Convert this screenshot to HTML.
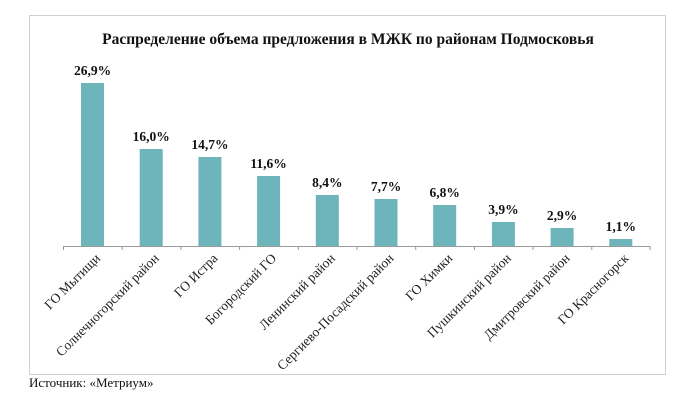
<!DOCTYPE html>
<html><head><meta charset="utf-8"><style>
html,body{margin:0;padding:0;background:#fff;}
</style></head><body>
<svg width="700" height="403" xmlns="http://www.w3.org/2000/svg" font-family="Liberation Serif, DejaVu Serif, serif">
<rect x="0" y="0" width="700" height="403" fill="#fff"/>
<rect x="29.5" y="15.5" width="636" height="359" fill="#fff" stroke="#cfcfcf" stroke-width="1"/>
<text x="348" y="44" text-anchor="middle" font-weight="bold" font-size="15.5" fill="#111">Распределение объема предложения в МЖК по районам Подмосковья</text>
<line x1="63" y1="246.5" x2="650" y2="246.5" stroke="#999" stroke-width="1"/>
<g stroke="#999" stroke-width="1">
<line x1="63.5" y1="246" x2="63.5" y2="250"/><line x1="122.2" y1="246" x2="122.2" y2="250"/><line x1="180.9" y1="246" x2="180.9" y2="250"/><line x1="239.6" y1="246" x2="239.6" y2="250"/><line x1="298.3" y1="246" x2="298.3" y2="250"/><line x1="357" y1="246" x2="357" y2="250"/><line x1="415.7" y1="246" x2="415.7" y2="250"/><line x1="474.4" y1="246" x2="474.4" y2="250"/><line x1="533.1" y1="246" x2="533.1" y2="250"/><line x1="591.8" y1="246" x2="591.8" y2="250"/><line x1="650" y1="246" x2="650" y2="250"/>
</g>
<g fill="#6db5bb">
<rect x="81" y="83" width="23" height="163"/>
<rect x="139.7" y="149" width="23" height="97"/>
<rect x="198.4" y="157" width="23" height="89"/>
<rect x="257.1" y="176" width="23" height="70"/>
<rect x="315.8" y="195" width="23" height="51"/>
<rect x="374.5" y="199" width="23" height="47"/>
<rect x="433.2" y="205" width="23" height="41"/>
<rect x="491.9" y="222" width="23" height="24"/>
<rect x="550.6" y="228" width="23" height="18"/>
<rect x="609.3" y="239" width="23" height="7"/>
</g>
<g font-weight="bold" font-size="13.5" text-anchor="middle" fill="#111">
<text x="92.5" y="75">26,9%</text>
<text x="151.2" y="141">16,0%</text>
<text x="209.9" y="149">14,7%</text>
<text x="268.6" y="168">11,6%</text>
<text x="327.3" y="187">8,4%</text>
<text x="386" y="191">7,7%</text>
<text x="444.7" y="197">6,8%</text>
<text x="503.4" y="214">3,9%</text>
<text x="562.1" y="220">2,9%</text>
<text x="620.8" y="231">1,1%</text>
</g>
<g font-size="13.5" text-anchor="end" fill="#222">
<text transform="translate(101,259) rotate(-45)">ГО Мытищи</text>
<text transform="translate(159.7,259) rotate(-45)">Солнечногорский район</text>
<text transform="translate(218.4,259) rotate(-45)">ГО Истра</text>
<text transform="translate(277.1,259) rotate(-45)">Богородский ГО</text>
<text transform="translate(335.8,259) rotate(-45)">Ленинский район</text>
<text transform="translate(394.5,259) rotate(-45)">Сергиево-Посадский район</text>
<text transform="translate(453.2,259) rotate(-45)">ГО Химки</text>
<text transform="translate(511.9,259) rotate(-45)">Пушкинский район</text>
<text transform="translate(570.6,259) rotate(-45)">Дмитровский район</text>
<text transform="translate(629.3,259) rotate(-45)">ГО Красногорск</text>
</g>
<text x="29" y="387" font-size="13" fill="#111">Источник: «Метриум»</text>
</svg>
</body></html>
